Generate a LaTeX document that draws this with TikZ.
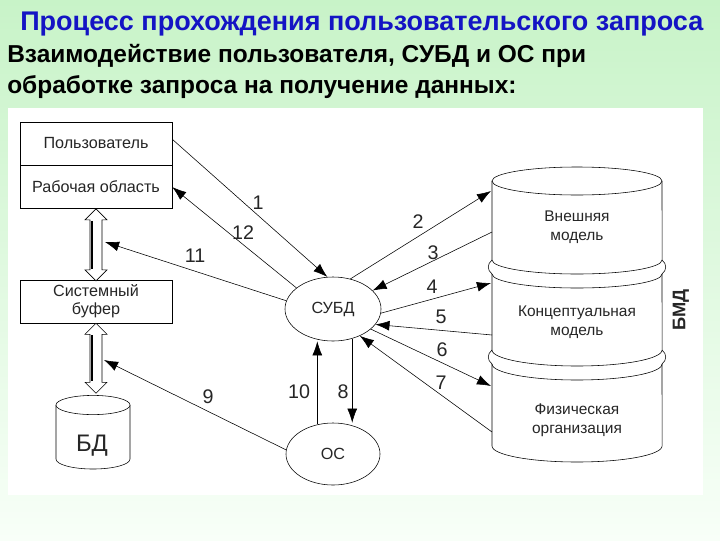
\documentclass[tikz,border=0pt]{standalone}
\usepackage{fontspec}
\setmainfont{Liberation Sans}
\usetikzlibrary{positioning, calc, arrows.meta, shapes.geometric}
\definecolor{Title}{HTML}{1414C4}
\definecolor{Ink}{HTML}{262626}
\definecolor{BgTop}{RGB}{200,243,200}
\definecolor{BgBottom}{RGB}{248,255,248}
\tikzset{
    heading/.style={inner sep=0pt, text=Title, font=\bfseries\fontsize{19.2}{21}\selectfont},
    subheading/.style={inner sep=0pt, text=black, font=\bfseries\fontsize{17.4}{19}\selectfont},
    box/.style={rectangle, draw=black, fill=white, minimum width=3.8cm, minimum height=1.075cm, inner sep=0pt, align=center, text=Ink, font=\fontsize{11.5}{13}\selectfont},
    oval/.style={ellipse, draw=black, fill=white, inner sep=0pt, text=Ink, font=\fontsize{11.5}{13}\selectfont},
    layer/.style={align=center, inner sep=0pt, text=Ink, font=\fontsize{11}{13.5}\selectfont},
    num/.style={inner sep=0pt, text=Ink, font=\fontsize{14}{16}\selectfont},
    arrow/.style={-{Latex[length=10pt,width=7pt]}, color=black},
    hollow/.style={draw=black, fill=white},
}
\begin{document}
\begin{tikzpicture}[x=0.025cm, y=-0.025cm]
\useasboundingbox (0,0) rectangle (720,540);
\shade[top color=BgTop, bottom color=BgBottom] (0,0) rectangle (720,540);
\fill[white] (8,108) rectangle (703,495);

% headings
\node[heading, anchor=west] (title) at (20,24) {Процесс прохождения пользовательского запроса};
\node[subheading, anchor=west] (sub1) at (7,56) {Взаимодействие пользователя, СУБД и ОС при};
\node[subheading, anchor=west] (sub2) at (7,87) {обработке запроса на получение данных:};

% user side
\node[box] (user) at (96,143.5) {Пользователь};
\node[box, below=0pt of user] (work) {Рабочая область};
\node[box] (buffer) at (96,301.5) {Системный\\буфер};

% database cylinder
\draw[fill=white] (56,405) -- (56,459) arc[start angle=180, end angle=360, x radius=0.925cm, y radius=0.25cm] -- (130,405);
\draw[fill=white] (93,405) ellipse [x radius=0.925cm, y radius=0.24cm];
\node[inner sep=0pt, text=Ink, font=\fontsize{17}{19}\selectfont] (db) at (92,446) {БД};

% hollow double arrows
\draw[hollow] (work.south) -- ++(11,11) -- ++(-5,0) -- ++(0,50) -- ++(5,0) -- ++(-11,11)
    -- ++(-11,-11) -- ++(5,0) -- ++(0,-50) -- ++(-5,0) -- cycle;
\draw[line width=1.5pt] ($(work.south)+(-4,12)$) -- ++(0,48);
\draw[hollow] (buffer.south) -- ++(11,11) -- ++(-5,0) -- ++(0,48) -- ++(5,0) -- ++(-11,11)
    -- ++(-11,-11) -- ++(5,0) -- ++(0,-48) -- ++(-5,0) -- cycle;
\draw[line width=1.5pt] ($(buffer.south)+(-4,12)$) -- ++(0,46);
\coordinate (upshaft) at (105,242);
\coordinate (lowshaft) at (104,360);

% dbms and os
\node[oval, minimum width=2.4cm, minimum height=1.6cm] (dbms) at (333,309) {СУБД};
\node[oval, minimum width=2.35cm, minimum height=1.55cm] (os) at (333,454) {ОС};

% stacked model cylinder
\draw (577,181) ellipse [x radius=2.125cm, y radius=0.35cm];
\draw (492,181) -- (492,260) arc[start angle=180, end angle=360, x radius=2.125cm, y radius=0.35cm] -- (662,181);
\draw (492,260) .. controls (487,264) and (487,270) .. (492,274);
\draw (662,260) .. controls (667,264) and (667,270) .. (662,274);
\draw (492,274) arc[start angle=180, end angle=360, x radius=2.125cm, y radius=0.35cm];
\draw (492,274) -- (492,350) arc[start angle=180, end angle=360, x radius=2.125cm, y radius=0.4cm] -- (662,274);
\draw (492,350) .. controls (487,354) and (487,360) .. (492,364);
\draw (662,350) .. controls (667,354) and (667,360) .. (662,364);
\draw (492,364) arc[start angle=180, end angle=360, x radius=2.125cm, y radius=0.4cm];
\draw (492,364) -- (492,446) arc[start angle=180, end angle=360, x radius=2.125cm, y radius=0.4cm] -- (662,364);
\node[layer] (ext) at (577,227) {Внешняя\\модель};
\node[layer] (conc) at (577,322) {Концептуальная\\модель};
\node[layer] (phys) at (577,420) {Физическая\\организация};
\node[inner sep=0pt, rotate=90, text=Ink, font=\bfseries\fontsize{13}{15}\selectfont] (bmd) at (681,310) {БМД};
\coordinate (e1) at (491,191);
\coordinate (e2) at (492,232);
\coordinate (e3) at (491,283);
\coordinate (e4) at (492,335);
\coordinate (e5) at (491,386);
\coordinate (e6) at (492,432);

% requests
\draw[arrow] ([yshift=3pt]user.east) -- (dbms.100);
\draw[arrow] (dbms.150) -- (work.east);
\draw[arrow] (dbms.170) -- (upshaft);
\draw[arrow] (dbms.60) -- (e1);
\draw[arrow] (e2) -- (dbms.25);
\draw[arrow] (dbms.-5) -- (e3);
\draw[arrow] (e4) -- (dbms.-20);
\draw[arrow] (dbms.-28) -- (e5);
\draw[arrow] (e6) -- (dbms.-45);
\draw[arrow] (dbms.-57) -- (dbms.-57 |- os.north);
\draw[arrow] (os.118) -- (os.118 |- dbms.south);
\draw[arrow] (os.175) -- (lowshaft);

% step numbers
\node[num] (n1) at (258,203) {1};
\node[num] (n2) at (418,222) {2};
\node[num] (n3) at (433,253) {3};
\node[num] (n4) at (432,287) {4};
\node[num] (n5) at (441,317) {5};
\node[num] (n6) at (442,350) {6};
\node[num] (n7) at (441,383) {7};
\node[num] (n8) at (343,392) {8};
\node[num] (n9) at (208,397) {9};
\node[num] (n10) at (299,392) {10};
\node[num] (n11) at (195,256) {11};
\node[num] (n12) at (243,233) {12};
\end{tikzpicture}
\end{document}
